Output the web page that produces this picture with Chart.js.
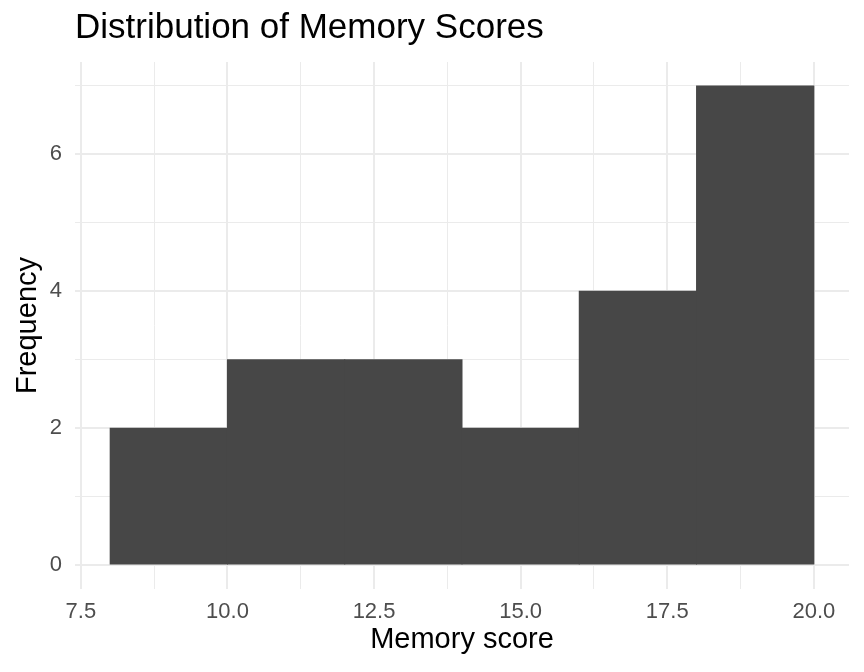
<!DOCTYPE html>
<html>
<head>
<meta charset="utf-8">
<script src="https://cdn.jsdelivr.net/npm/chart.js@4.4.1/dist/chart.umd.min.js"></script>
<style>
  html, body { margin: 0; padding: 0; background: #fff; }
</style>
</head>
<body>
<canvas id="histChart" width="864" height="672"></canvas>
<script>
// Histogram bins (binwidth 2) and counts
const binCenters = [9, 11, 13, 15, 17, 19];
const counts = [2, 3, 3, 2, 4, 7];

// Axis ticks
const xMajorTicks = [7.5, 10, 12.5, 15, 17.5, 20];
const xMinorTicks = [8.75, 11.25, 13.75, 16.25, 18.75];
const yTicks = [0, 1, 2, 3, 4, 5, 6, 7];
const yLabelled = [0, 2, 4, 6];

const fontFamily = '"Liberation Sans", Arial, Helvetica, sans-serif';
const gridColor = '#ebebeb';

const ctx = document.getElementById('histChart').getContext('2d');
const histChart = new Chart(ctx, {
    type: 'bar',
    data: {
        datasets: [{
            label: 'Frequency',
            data: binCenters.map((x, i) => ({ x: x, y: counts[i] })),
            backgroundColor: '#474747',
            borderWidth: 0,
            inflateAmount: 0.5,
            barPercentage: 1.0,
            categoryPercentage: 1.0,
            xAxisID: 'x'
        }]
    },
    options: {
        responsive: false,
        animation: false,
        layout: { padding: { left: 0, right: 15, top: 0, bottom: 0 } },
        plugins: {
            legend: { display: false },
            tooltip: { enabled: false },
            title: {
                display: true,
                text: 'Distribution of Memory Scores',
                align: 'start',
                fullSize: false,
                color: '#000',
                font: { family: fontFamily, size: 35, weight: 'normal', lineHeight: 1.2 },
                padding: { top: 7, bottom: 13 }
            }
        },
        scales: {
            x: {
                type: 'linear',
                position: 'bottom',
                min: 7.4,
                max: 20.6,
                offset: false,
                afterBuildTicks: function(scale) {
                    scale.ticks = xMajorTicks.map(v => ({ value: v }));
                },
                afterFit: function(scale) { scale.height = 83; },
                border: { display: false },
                grid: { color: gridColor, lineWidth: 2, drawTicks: false, offset: false },
                ticks: {
                    color: '#4d4d4d',
                    padding: 10,
                    maxRotation: 0,
                    font: { family: fontFamily, size: 22 },
                    callback: function(value) { return Number(value).toFixed(1); }
                },
                title: {
                    display: true,
                    text: 'Memory score',
                    color: '#000',
                    font: { family: fontFamily, size: 29, lineHeight: 1.2 },
                    padding: { top: 4, bottom: 15 }
                }
            },
            xMinor: {
                type: 'linear',
                position: 'bottom',
                min: 7.4,
                max: 20.6,
                offset: false,
                afterBuildTicks: function(scale) {
                    scale.ticks = xMinorTicks.map(v => ({ value: v }));
                },
                afterFit: function(scale) { scale.height = 0; },
                border: { display: false },
                grid: { color: gridColor, lineWidth: 1, drawTicks: false, offset: false },
                ticks: { display: false }
            },
            y: {
                type: 'linear',
                min: -0.35,
                max: 7.35,
                afterBuildTicks: function(scale) {
                    scale.ticks = yTicks.map(v => ({ value: v }));
                },
                afterFit: function(scale) { scale.width = 75; },
                border: { display: false },
                grid: {
                    color: gridColor,
                    drawTicks: false,
                    lineWidth: function(context) {
                        return yLabelled.includes(context.tick.value) ? 2 : 1;
                    }
                },
                ticks: {
                    color: '#4d4d4d',
                    padding: 13,
                    font: { family: fontFamily, size: 22 },
                    callback: function(value) {
                        return yLabelled.includes(value) ? String(value) : '';
                    }
                },
                title: {
                    display: true,
                    text: 'Frequency',
                    color: '#000',
                    font: { family: fontFamily, size: 29, lineHeight: 1.2 },
                    padding: { top: 11, bottom: 0 }
                }
            }
        }
    }
});
</script>
</body>
</html>
